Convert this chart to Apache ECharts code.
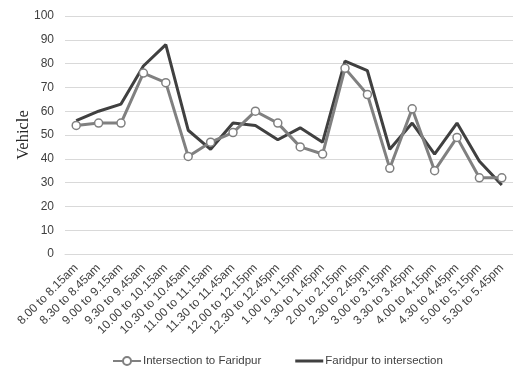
<!DOCTYPE html>
<html>
<head>
<meta charset="utf-8">
<script src="https://cdn.jsdelivr.net/npm/echarts@6/dist/echarts.min.js"></script>
<style>
  html, body { margin: 0; padding: 0; background: #ffffff; }
  #chart { width: 513px; height: 372px; }
</style>
</head>
<body>
<div id="chart"></div>
<script>
// Time slots (15-minute counts, every half hour)
const timeSlots = [
  '8.00 to 8.15am', '8.30 to 8.45am', '9.00 to 9.15am', '9.30 to 9.45am',
  '10.00 to 10.15am', '10.30 to 10.45am', '11.00 to 11.15am', '11.30 to 11.45am',
  '12.00 to 12.15pm', '12.30 to 12.45pm', '1.00 to 1.15pm', '1.30 to 1.45pm',
  '2.00 to 2.15pm', '2.30 to 2.45pm', '3.00 to 3.15pm', '3.30 to 3.45pm',
  '4.00 to 4.15pm', '4.30 to 4.45pm', '5.00 to 5.15pm', '5.30 to 5.45pm'
];

// Vehicle counts per direction
const intersectionToFaridpur = [54, 55, 55, 76, 72, 41, 47, 51, 60, 55, 45, 42, 78, 67, 36, 61, 35, 49, 32, 32];
const faridpurToIntersection = [56, 60, 63, 79, 88, 52, 44, 55, 54, 48, 53, 47, 81, 77, 44, 55, 42, 55, 39, 29];

// Value axis ticks
const yMin = 0;
const yMax = 100;
const yStep = 10;

// Plain line legend icon (thin bar centred in the icon box)
const plainLineIcon = 'path://M0,0M28,3.5h-28v3h28zM28,10';

const chart = echarts.init(document.getElementById('chart'), null, { renderer: 'canvas' });

chart.setOption({
  animation: false,
  backgroundColor: '#ffffff',
  grid: { left: 65, top: 16, width: 455, height: 238, containLabel: false },
  legend: {
    bottom: 0,
    left: 107,
    itemWidth: 28,
    itemHeight: 10,
    itemGap: 34,
    textStyle: { fontFamily: 'Liberation Sans', fontSize: 11.5, color: '#404040', padding: [0, 0, 0, -3] },
    data: [
      { name: 'Intersection to Faridpur' },
      { name: 'Faridpur to intersection', icon: plainLineIcon, itemStyle: { color: '#404040' } }
    ]
  },
  xAxis: {
    type: 'category',
    data: timeSlots,
    boundaryGap: true,
    axisLine: { show: true, lineStyle: { color: '#d9d9d9', width: 1 } },
    axisTick: { show: false },
    axisLabel: {
      rotate: 45,
      interval: 0,
      margin: 12,
      fontFamily: 'Liberation Sans',
      fontSize: 12,
      color: '#404040'
    }
  },
  yAxis: {
    type: 'value',
    min: yMin,
    max: yMax,
    interval: yStep,
    name: 'Vehicle',
    nameLocation: 'middle',
    nameGap: 33,
    nameMoveOverlap: false,
    nameRotate: 90,
    nameTextStyle: { fontFamily: 'Liberation Serif', fontSize: 16.5, color: '#262626' },
    axisLine: { show: false },
    axisTick: { show: false },
    axisLabel: { margin: 11, fontFamily: 'Liberation Sans', fontSize: 12, color: '#404040' },
    splitLine: { lineStyle: { color: '#d9d9d9', width: 1 } }
  },
  series: [
    {
      name: 'Intersection to Faridpur',
      type: 'line',
      data: intersectionToFaridpur,
      symbol: 'circle',
      symbolSize: 8,
      showAllSymbol: true,
      lineStyle: { color: '#808080', width: 3 },
      itemStyle: { color: '#ffffff', borderColor: '#808080', borderWidth: 1.5 },
      z: 3
    },
    {
      name: 'Faridpur to intersection',
      type: 'line',
      data: faridpurToIntersection,
      symbol: 'none',
      lineStyle: { color: '#404040', width: 3 },
      itemStyle: { color: '#404040' },
      z: 2
    }
  ]
});
</script>
</body>
</html>
